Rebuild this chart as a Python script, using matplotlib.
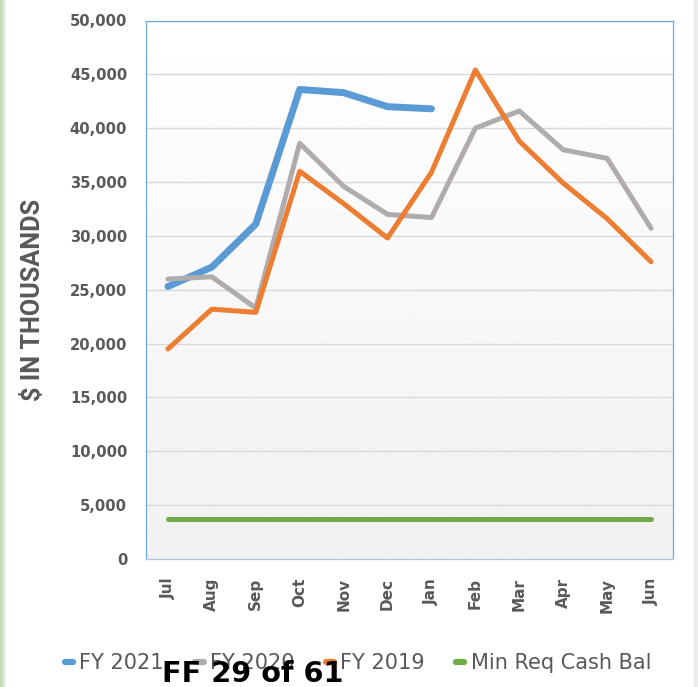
import matplotlib
matplotlib.use("Agg")
import matplotlib.pyplot as plt
import numpy as np
from matplotlib.lines import Line2D
from matplotlib.patches import Rectangle

months = ['Jul', 'Aug', 'Sep', 'Oct', 'Nov', 'Dec',
          'Jan', 'Feb', 'Mar', 'Apr', 'May', 'Jun']
fy2021 = [25300, 27100, 31100, 43600, 43300, 42000, 41800]
fy2020 = [26000, 26200, 23300, 38600, 34600, 32000, 31700,
          40000, 41600, 38000, 37200, 30700]
fy2019 = [19500, 23200, 22900, 36000, 33000, 29800, 35900,
          45400, 38800, 34900, 31600, 27600]
min_cash = [3700] * 12
yticks = [0, 5000, 10000, 15000, 20000, 25000, 30000,
          35000, 40000, 45000, 50000]

BLUE, GREY, ORANGE, GREEN = '#5b9bd5', '#b0acab', '#ed7d31', '#70ad47'
TXT = '#595959'

fig = plt.figure(figsize=(6.98, 6.87), dpi=100)
ax = fig.add_axes([146 / 698, 1 - 559 / 687, 527 / 698, 538.5 / 687])

# white-to-grey plot area fill
grad = np.linspace(1.0, 0.945, 256).reshape(-1, 1)
ax.imshow(grad, cmap='gray', vmin=0, vmax=1, aspect='auto',
          extent=[0, 1, 0, 1], transform=ax.transAxes, zorder=0)

x = np.arange(len(months))
ax.plot(x[:len(fy2020)], fy2020, color=GREY, lw=3.6,
        solid_capstyle='round', solid_joinstyle='round', zorder=3)
ax.plot(x[:len(fy2019)], fy2019, color=ORANGE, lw=3.6,
        solid_capstyle='round', solid_joinstyle='round', zorder=4)
ax.plot(x[:len(fy2021)], fy2021, color=BLUE, lw=5,
        solid_capstyle='round', solid_joinstyle='round', zorder=2)
ax.plot(x, min_cash, color=GREEN, lw=3.6, solid_capstyle='round', zorder=3)

ax.set_xlim(-0.5, len(months) - 0.5)
ax.set_ylim(0, 50000)
ax.set_yticks(yticks)
ax.set_yticklabels([f'{v:,}' for v in yticks])
ax.set_xticks(x)
ax.set_xticklabels(months, rotation=90, va='top', ha='center')
ax.yaxis.grid(True, color='#d9d9d9', lw=1)
ax.set_axisbelow(True)
ax.tick_params(axis='y', length=0, pad=13.5, labelsize=10.6, labelcolor=TXT)
ax.tick_params(axis='x', length=0, pad=13.5, labelsize=11, labelcolor=TXT)
for lab in ax.get_xticklabels() + ax.get_yticklabels():
    lab.set_fontweight('bold')
for sp in ax.spines.values():
    sp.set_color('#6fa8dc')
    sp.set_linewidth(0.9)
ax.spines['bottom'].set_color('#b4c7e7')

fig.text(33 / 698, 1 - 300 / 687, '$ IN THOUSANDS', rotation=90,
         ha='center', va='center', fontsize=18.2, fontweight='bold',
         color=TXT, family=['Roboto', 'DejaVu Sans'])

handles = [Line2D([], [], color=c, lw=4.5, solid_capstyle='round')
           for c in (BLUE, GREY, ORANGE, GREEN)]
leg = fig.legend(handles, ['FY 2021', 'FY 2020', 'FY 2019', 'Min Req Cash Bal'],
                 loc='center', bbox_to_anchor=(358 / 698, 1 - 663 / 687),
                 ncol=4, frameon=False, fontsize=15, handlelength=0.4,
                 handletextpad=0.3, columnspacing=1.5, borderpad=0)
for t in leg.get_texts():
    t.set_color(TXT)

fig.text(162 / 698, 1 - 682 / 687, 'FF 29 of 61', ha='left', va='baseline',
         fontsize=20.7, fontweight='bold', color='black', zorder=10)

# page edges
fig.patches.append(Rectangle((0, 0), 2.5 / 698, 1, transform=fig.transFigure,
                             color='#c5e0b4', zorder=0))
fig.patches.append(Rectangle((3 / 698, 0), 1 / 698, 1, transform=fig.transFigure,
                             color='#e4e4e4', zorder=0))
fig.patches.append(Rectangle((694 / 698, 0), 4 / 698, 1, transform=fig.transFigure,
                             color='#ececec', zorder=0))

fig.savefig('out.png', dpi=100)
